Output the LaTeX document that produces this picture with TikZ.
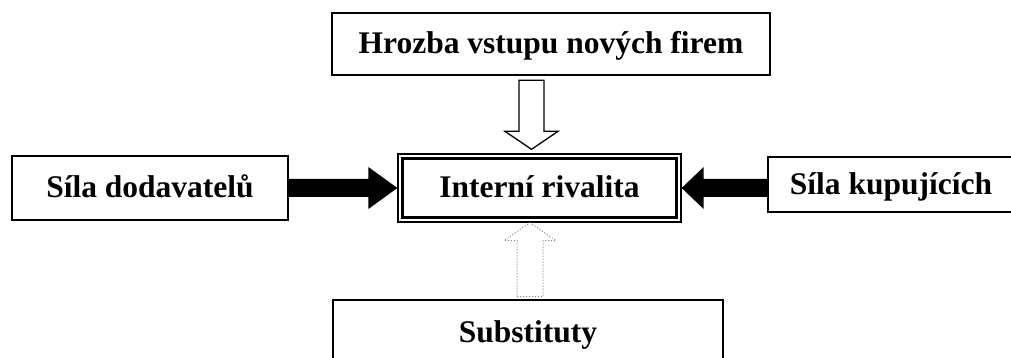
\documentclass[tikz,border=0pt]{standalone}
\usepackage{fontspec}
\setmainfont{Liberation Serif}
\usetikzlibrary{calc}

\begin{document}
\begin{tikzpicture}[
    x=1pt,y=1pt,
    box/.style={draw,line width=2.4pt,inner sep=0pt,text height=24pt,text depth=4pt,
        font=\bfseries\fontsize{31.5}{38}\selectfont},
    hollowarrow/.style={draw,line width=1.3pt,fill=white,line join=miter},
    dotarrow/.style={draw,gray,dotted,line width=1pt},
]
\useasboundingbox (0,0) rectangle (1011,358);

% forces round the rivalry
\node[box,minimum width=438,minimum height=62] (entry) at (551,314) {Hrozba vstupu nových firem};
\node[box,line width=1.3pt,minimum width=283,minimum height=68] (rival) at (539.5,170) {Interní rivalita};
\node[box,minimum width=276,minimum height=64] (supplier) at (150,170) {Síla dodavatelů};
\node[box,minimum width=246,minimum height=55] (buyer) at (891,173.5) {Síla kupujících};
\node[box,line width=2.8pt,minimum width=390,minimum height=66] (subst) at (528,25) {Substituty};

% inner frame of the centre box
\draw[line width=2.8pt] ($(rival.south west)+(5,5)$) rectangle ($(rival.north east)+(-5,-5)$);

% supplier arrow (black)
\fill let \p1=(supplier.east), \p2=(rival.west) in
    (\x1,\y2+9) -- (\x2-29,\y2+9) -- (\x2-29,\y2+21) -- (\x2,\y2)
    -- (\x2-29,\y2-21) -- (\x2-29,\y2-9) -- (\x1,\y2-9) -- cycle;

% buyer arrow (black)
\fill let \p1=(buyer.west), \p2=(rival.east) in
    (\x1,\y2+9) -- (\x2+22,\y2+9) -- (\x2+22,\y2+21) -- (\x2,\y2)
    -- (\x2+22,\y2-21) -- (\x2+22,\y2-9) -- (\x1,\y2-9) -- cycle;

% entry arrow (hollow)
\draw[hollowarrow] let \p1=(entry.south), \p2=($(rival.north)+(-8,0)$) in
    (\x2-12.5,\y1-4) -- (\x2+12.5,\y1-4) -- (\x2+12.5,\y2+22) -- (\x2+26.5,\y2+22)
    -- (\x2,\y2+4) -- (\x2-26.5,\y2+22) -- (\x2-12.5,\y2+22) -- cycle;

% substitutes arrow (dotted)
\draw[dotarrow] let \p1=(subst.north), \p2=($(rival.south)+(-9.5,0)$) in
    (\x2-13,\y1+2) -- (\x2+13,\y1+2) -- (\x2+13,\y2-18) -- (\x2+26,\y2-18)
    -- (\x2,\y2) -- (\x2-26,\y2-18) -- (\x2-13,\y2-18) -- cycle;
\end{tikzpicture}
\end{document}
